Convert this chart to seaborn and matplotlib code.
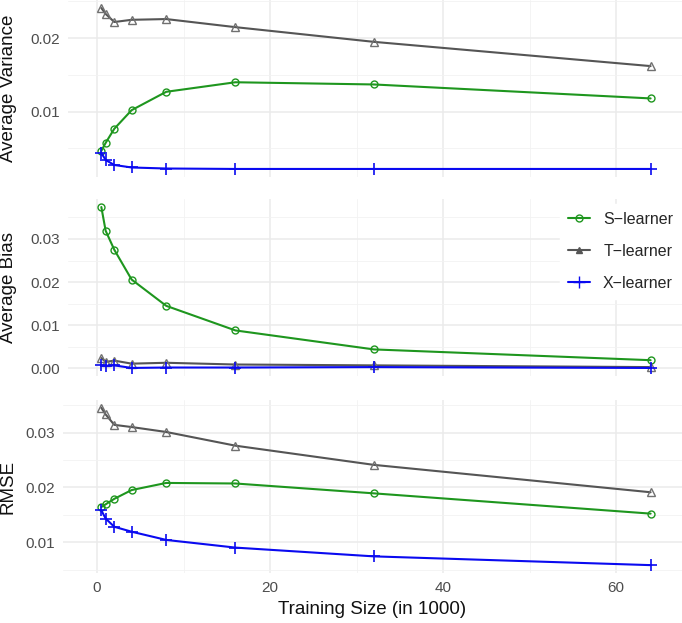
import numpy as np
import pandas as pd
import matplotlib
matplotlib.use("Agg")
import matplotlib.pyplot as plt
from matplotlib.lines import Line2D
from matplotlib.ticker import MultipleLocator, FormatStrFormatter
import seaborn as sns

sns.set_theme(style="white")
plt.rcParams['font.family'] = ['Liberation Sans', 'DejaVu Sans']

# ---- data ----
train_size = [0.5, 1, 2, 4, 8, 16, 32, 64]
learners = ["S\u2212learner", "T\u2212learner", "X\u2212learner"]

var_S = [0.00466, 0.00575, 0.00767, 0.0102, 0.0127, 0.0140, 0.0137, 0.0118]
var_T = [0.0241, 0.0233, 0.0222, 0.0225, 0.0226, 0.0215, 0.0195, 0.0162]
var_X = [0.00438, 0.00342, 0.00274, 0.0024, 0.00226, 0.0022, 0.0022, 0.0022]

bias_S = [0.0374, 0.0319, 0.0275, 0.0206, 0.0145, 0.0088, 0.0044, 0.0019]
bias_T = [0.0024, 0.0015, 0.0018, 0.0011, 0.0013, 0.0009, 0.0007, 0.0003]
bias_X = [0.0007, 0.0006, 0.0007, 0.0001, 0.0002, 0.0002, 0.0003, 0.0001]

rmse_S = [0.0164, 0.0169, 0.0179, 0.0195, 0.0208, 0.0207, 0.0189, 0.0152]
rmse_T = [0.0345, 0.0333, 0.0314, 0.0310, 0.0301, 0.0276, 0.0241, 0.0191]
rmse_X = [0.0158, 0.0143, 0.0128, 0.0119, 0.0104, 0.0090, 0.0074, 0.0058]

panels = [
    ("Average Variance", [var_S, var_T, var_X]),
    ("Average Bias", [bias_S, bias_T, bias_X]),
    ("RMSE", [rmse_S, rmse_T, rmse_X]),
]

colors = {"S\u2212learner": "#1E961E", "T\u2212learner": "#555555", "X\u2212learner": "#0A0AF0"}
markers = {"S\u2212learner": "o", "T\u2212learner": "^", "X\u2212learner": "+"}

W, H = 682, 623
fig = plt.figure(figsize=(W / 100, H / 100), dpi=100)
right = 682
boxes = [(68, 0, 177), (68, 199, 376), (63, 400, 573)]
x0_px, px_per_unit = 97.0, 8.65

axes = []
for i, ((title, series), (left, top, bot)) in enumerate(zip(panels, boxes)):
    ax = fig.add_axes([left / W, 1 - bot / H, (right - left) / W, (bot - top) / H])
    axes.append(ax)
    for name, vals in zip(learners, series):
        df = pd.DataFrame({"x": train_size, "y": vals})
        c = colors[name]
        m = markers[name]
        if m == "+":
            kw = dict(marker="+", markersize=8, markeredgewidth=1.2, markeredgecolor=c)
        elif m == "o":
            kw = dict(marker="o", markersize=5, markerfacecolor="none",
                      markeredgecolor=c, markeredgewidth=1.0)
        else:
            kw = dict(marker="^", markersize=6, markerfacecolor="none",
                      markeredgecolor="#707070", markeredgewidth=1.0)
        sns.lineplot(data=df, x="x", y="y", ax=ax, color=c, linewidth=1.5, **kw)
    allv = np.concatenate([np.array(s) for s in series])
    lo, hi = allv.min(), allv.max()
    pad = 0.05 * (hi - lo)
    ax.set_ylim(lo - pad, hi + pad)
    ax.set_xlim((left - x0_px) / px_per_unit, (right - x0_px) / px_per_unit)
    ax.yaxis.set_major_locator(MultipleLocator(0.01))
    ax.yaxis.set_minor_locator(MultipleLocator(0.005))
    ax.yaxis.set_major_formatter(FormatStrFormatter("%.2f"))
    ax.xaxis.set_major_locator(MultipleLocator(20))
    ax.xaxis.set_minor_locator(MultipleLocator(10))
    ax.grid(which="major", color="#EBEBEB", linewidth=1.1)
    ax.grid(which="minor", color="#F2F2F2", linewidth=0.6)
    ax.set_axisbelow(True)
    for s in ax.spines.values():
        s.set_visible(False)
    ax.tick_params(which="both", length=0, labelsize=11, labelcolor="#4D4D4D", pad=5.8)
    ax.set_ylabel(title, fontsize=13.5, color="#111111")
    ax.yaxis.set_label_coords((17 - left) / (right - left), 0.5)
    if i < 2:
        ax.tick_params(axis="x", labelbottom=False)
        ax.set_xlabel("")
    else:
        ax.set_xlabel("Training Size (in 1000)", fontsize=13.5, color="#111111", labelpad=4)

handles = [Line2D([0], [0], color=colors[n], linewidth=1.5, marker=markers[n],
                  markersize=5 if markers[n] != "+" else 8,
                  markerfacecolor="none" if markers[n] == "o" else colors[n],
                  markeredgecolor=colors[n]) for n in learners]
leg = fig.legend(handles, learners, loc="upper left", bbox_to_anchor=(560 / W, 1 - 204 / H),
                 bbox_transform=fig.transFigure, borderaxespad=0,
                 frameon=True, fontsize=11.5, handlelength=1.4, labelspacing=1.05,
                 borderpad=0.5, handletextpad=0.8)
leg.get_frame().set_facecolor("white")
leg.get_frame().set_edgecolor("white")
leg.get_frame().set_alpha(1.0)
leg.get_frame().set_boxstyle("square", pad=0)

fig.savefig("out.png", dpi=100)
